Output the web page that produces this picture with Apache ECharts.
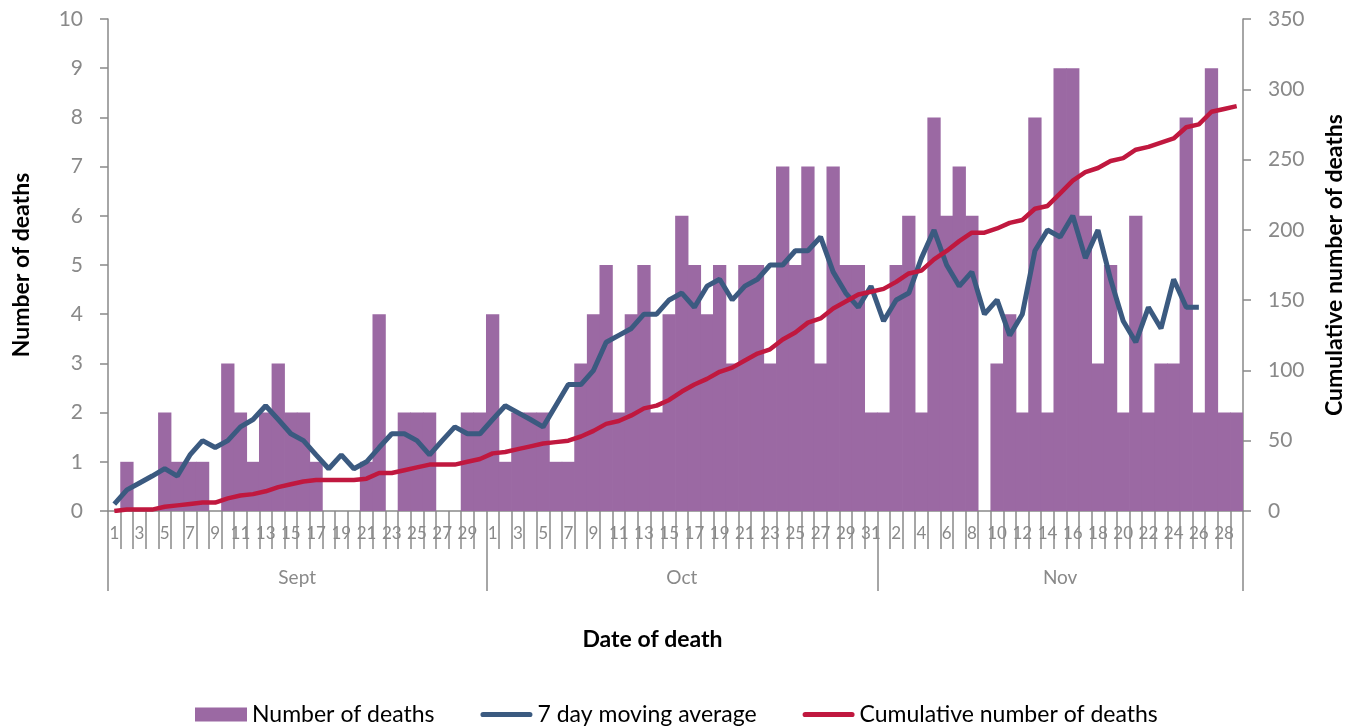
<!DOCTYPE html>
<html>
<head>
<meta charset="utf-8">
<script src="https://cdn.jsdelivr.net/npm/echarts@6/dist/echarts.min.js"></script>
<style>
html,body{margin:0;padding:0;background:#fff;}
#chart{width:1354px;height:727px;}
</style>
</head>
<body>
<div id="chart"></div>
<script>
// ---- data ----
const months = ['Sept', 'Oct', 'Nov'];
const septDays = ['1','2','3','4','5','6','7','8','9','10','11','12','13','14','15','16','17','18','19','20','21','22','23','24','25','26','27','28','29','30'];
const octDays = ['1','2','3','4','5','6','7','8','9','10','11','12','13','14','15','16','17','18','19','20','21','22','23','24','25','26','27','28','29','30','31'];
const novDays = ['1','2','3','4','5','6','7','8','9','10','11','12','13','14','15','16','17','18','19','20','21','22','23','24','25','26','27','28','29'];

const septDeaths = [0,1,0,0,2,1,1,1,0,3,2,1,2,3,2,2,1,0,0,0,1,4,0,2,2,2,0,0,2,2];
const octDeaths = [4,1,2,2,2,1,1,3,4,5,2,4,5,2,4,6,5,4,5,3,5,5,3,7,5,7,3,7,5,5,2];
const novDeaths = [2,5,6,2,8,6,7,6,0,3,4,2,8,2,9,9,6,3,5,2,6,2,3,3,8,2,9,2,2];

const septAvg = [0.14,0.43,0.57,0.71,0.86,0.71,1.14,1.43,1.29,1.43,1.71,1.86,2.14,1.86,1.57,1.43,1.14,0.86,1.14,0.86,1.00,1.29,1.57,1.57,1.43,1.14,1.43,1.71,1.57,1.57];
const octAvg = [1.86,2.14,2.00,1.86,1.71,2.14,2.57,2.57,2.86,3.43,3.57,3.71,4.00,4.00,4.29,4.43,4.14,4.57,4.71,4.29,4.57,4.71,5.00,5.00,5.29,5.29,5.57,4.86,4.43,4.14,4.57];
const novAvg = [3.86,4.29,4.43,5.14,5.71,5.00,4.57,4.86,4.00,4.29,3.57,4.00,5.29,5.71,5.57,6.00,5.14,5.71,4.71,3.86,3.43,4.14,3.71,4.71,4.14,4.14,null,null,null];

const septCum = [0,1,1,1,3,4,5,6,6,9,11,12,14,17,19,21,22,22,22,22,23,27,27,29,31,33,33,33,35,37];
const octCum = [41,42,44,46,48,49,50,53,57,62,64,68,73,75,79,85,90,94,99,102,107,112,115,122,127,134,137,144,149,154,156];
const novCum = [158,163,169,171,179,185,192,198,198,201,205,207,215,217,226,235,241,244,249,251,257,259,262,265,273,275,284,286,288];

const leftTicks = {min: 0, max: 10, interval: 1};
const rightTicks = {min: 0, max: 350, interval: 50};

// ---- build ----
const monthDays = [septDays, octDays, novDays];
const days = [].concat(septDays, octDays, novDays);
const deaths = [].concat(septDeaths, octDeaths, novDeaths);
const avg = [].concat(septAvg, octAvg, novAvg);
const cum = [].concat(septCum, octCum, novCum);

const monthStart = [];
const monthLabelAt = {};
let s = 0;
monthDays.forEach((d, m) => {
  monthStart.push(s);
  const center = s + d.length / 2;
  const idx = Math.floor(center);
  monthLabelAt[idx] = { name: months[m], even: d.length % 2 === 0 };
  s += d.length;
});

const GRAY = '#898989';
const FONT = 'Lato';
const BAR = '#9B69A3';
const BLUE = '#3B5A80';
const RED = '#C0183F';
const LINE_ICON = 'path://M5,0H95A5,5 0 0 1 95,10H5A5,5 0 0 1 5,0Z';

const chart = echarts.init(document.getElementById('chart'), null, {renderer: 'canvas'});
chart.setOption({
  animation: false,
  textStyle: {fontFamily: FONT},
  grid: {left: 108, right: 110, top: 19, bottom: 216},
  legend: {
    left: 190, top: 698,
    itemWidth: 52, itemHeight: 14, itemGap: 46,
    textStyle: {fontFamily: FONT, fontSize: 23, color: '#000'},
    data: [
      {name: 'Number of deaths', icon: 'rect'},
      {name: '7 day moving average', icon: LINE_ICON},
      {name: 'Cumulative number of deaths', icon: LINE_ICON}
    ]
  },
  xAxis: [
    {
      type: 'category', data: days, position: 'bottom',
      axisLine: {show: true, lineStyle: {color: GRAY, width: 1.5}},
      axisTick: {show: true, interval: 0, length: 38, lineStyle: {color: GRAY, width: 1.5}},
      axisLabel: {interval: 1, fontSize: 17, color: GRAY, margin: 14, fontFamily: FONT},
      splitLine: {show: false}
    },
    {
      type: 'category', data: days, position: 'bottom', offset: 0,
      axisLine: {show: false},
      axisTick: {show: true, length: 80, lineStyle: {color: GRAY, width: 1.5},
        interval: (i) => monthStart.indexOf(i) >= 0},
      axisLabel: {
        margin: 57, fontSize: 19, color: GRAY, fontFamily: FONT,
        interval: (i) => monthLabelAt[i] !== undefined,
        formatter: (v, i) => {
          const m = monthLabelAt[i];
          if (!m) return '';
          return m.even ? '{e|' + m.name + '}' : m.name;
        },
        rich: {e: {fontSize: 19, color: GRAY, fontFamily: FONT, padding: [0, 12.6, 0, 0]}}
      },
      name: 'Date of death', nameLocation: 'middle', nameGap: 117,
      nameTextStyle: {fontFamily: FONT, fontSize: 23, fontWeight: 'bold', color: '#000', padding: [0, 46, 0, 0]}
    }
  ],
  yAxis: [
    {
      type: 'value', position: 'left', min: leftTicks.min, max: leftTicks.max, interval: leftTicks.interval,
      axisLine: {show: true, lineStyle: {color: GRAY, width: 1.5}},
      axisTick: {show: true, inside: false, length: 8, lineStyle: {color: GRAY, width: 1.5}},
      axisLabel: {fontSize: 21, color: GRAY, margin: 25, fontFamily: FONT},
      splitLine: {show: false},
      name: 'Number of deaths', nameLocation: 'middle', nameGap: 75,
      nameTextStyle: {fontFamily: FONT, fontSize: 23, fontWeight: 'bold', color: '#000'}
    },
    {
      type: 'value', position: 'right', min: rightTicks.min, max: rightTicks.max, interval: rightTicks.interval,
      axisLine: {show: true, lineStyle: {color: GRAY, width: 1.5}},
      axisTick: {show: true, inside: false, length: 8, lineStyle: {color: GRAY, width: 1.5}},
      axisLabel: {fontSize: 21, color: GRAY, margin: 25, fontFamily: FONT},
      splitLine: {show: false},
      name: 'Cumulative number of deaths', nameLocation: 'middle', nameGap: 80,
      nameTextStyle: {fontFamily: FONT, fontSize: 23, fontWeight: 'bold', color: '#000'}
    }
  ],
  series: [
    {
      name: 'Number of deaths', type: 'bar', data: deaths,
      xAxisIndex: 0, yAxisIndex: 0,
      barWidth: 13.3, barGap: '0%',
      itemStyle: {color: BAR, borderWidth: 0}
    },
    {
      name: '7 day moving average', type: 'line', data: avg,
      xAxisIndex: 0, yAxisIndex: 0,
      symbol: 'none', connectNulls: false,
      lineStyle: {color: BLUE, width: 5},
      itemStyle: {color: BLUE}, z: 3
    },
    {
      name: 'Cumulative number of deaths', type: 'line', data: cum,
      xAxisIndex: 0, yAxisIndex: 1,
      symbol: 'none',
      lineStyle: {color: RED, width: 4.5},
      itemStyle: {color: RED}, z: 4
    }
  ]
});
</script>
</body>
</html>
